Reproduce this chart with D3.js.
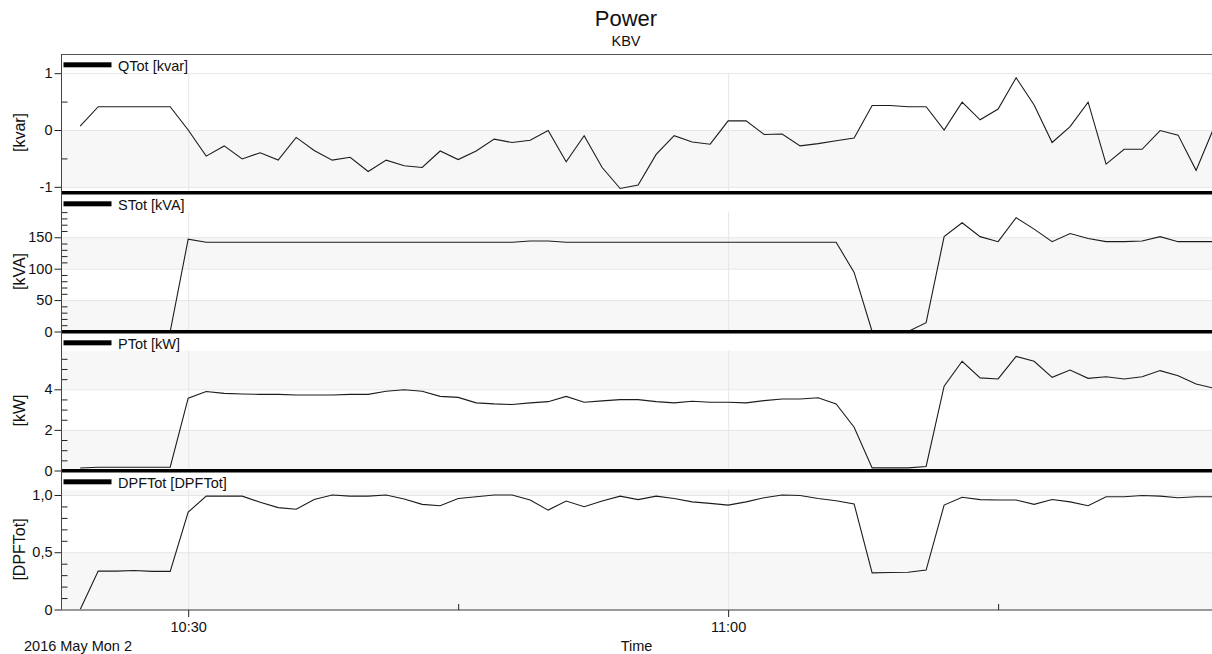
<!DOCTYPE html>
<html>
<head>
<meta charset="utf-8">
<script src="https://cdn.jsdelivr.net/npm/d3@7"></script>
<style>
body { margin: 0; background: #fff; }
svg { display: block; font-family: "Liberation Sans", Arial, sans-serif; }
</style>
</head>
<body>
<script>
// one sample per minute, starting 10:24
var startTime = new Date(2016, 4, 2, 10, 24);

var qTot = [0.07, 0.41, 0.41, 0.41, 0.41, 0.41, 0.0, -0.46, -0.28, -0.51,
            -0.40, -0.53, -0.13, -0.36, -0.53, -0.48, -0.73, -0.53, -0.63, -0.66,
            -0.37, -0.52, -0.37, -0.16, -0.22, -0.18, -0.01, -0.56, -0.10, -0.66,
            -1.03, -0.97, -0.43, -0.10, -0.21, -0.25, 0.16, 0.16, -0.08, -0.07,
            -0.28, -0.24, -0.19, -0.14, 0.43, 0.43, 0.41, 0.41, 0.0, 0.49,
            0.18, 0.37, 0.92, 0.44, -0.22, 0.06, 0.49, -0.60, -0.34, -0.34,
            -0.01, -0.09, -0.71, 0.05];

var sTot = [0, 0, 0, 0, 0, 0, 147, 142, 142, 142,
            142, 142, 142, 142, 142, 142, 142, 142, 142, 142,
            142, 142, 142, 142, 142, 144, 144, 142, 142, 142,
            142, 142, 142, 142, 142, 142, 142, 142, 142, 142,
            142, 142, 142, 94, 0, 0, 0, 14, 151, 173,
            151, 143, 181, 163, 143, 156, 148, 143, 143, 144,
            151, 143, 143, 143];

var pTot = [0.12, 0.16, 0.16, 0.16, 0.16, 0.16, 3.56, 3.89, 3.80, 3.77,
            3.75, 3.75, 3.72, 3.72, 3.72, 3.75, 3.75, 3.90, 3.98, 3.90,
            3.65, 3.60, 3.33, 3.28, 3.25, 3.33, 3.39, 3.65, 3.36, 3.43,
            3.49, 3.49, 3.39, 3.33, 3.41, 3.36, 3.36, 3.33, 3.44, 3.52,
            3.52, 3.58, 3.28, 2.13, 0.13, 0.13, 0.13, 0.20, 4.15, 5.38,
            4.56, 4.51, 5.62, 5.38, 4.59, 4.95, 4.54, 4.62, 4.51, 4.62,
            4.92, 4.67, 4.26, 4.05];

var dpfTot = [0.0, 0.335, 0.335, 0.34, 0.333, 0.333, 0.85, 0.99, 0.99, 0.99,
              0.936, 0.89, 0.875, 0.96, 1.0, 0.99, 0.99, 1.0, 0.965, 0.918,
              0.906, 0.97, 0.985, 1.0, 1.0, 0.956, 0.868, 0.947, 0.897, 0.947,
              0.99, 0.96, 0.99, 0.97, 0.94, 0.927, 0.912, 0.94, 0.976, 1.0,
              0.995, 0.97, 0.95, 0.921, 0.32, 0.323, 0.325, 0.344, 0.912, 0.98,
              0.96, 0.956, 0.956, 0.918, 0.96, 0.94, 0.906, 0.985, 0.985, 0.995,
              0.99, 0.976, 0.985, 0.985];

var seriesNames = ["QTot [kvar]", "STot [kVA]", "PTot [kW]", "DPFTot [DPFTot]"];
var unitLabels = ["[kvar]", "[kVA]", "[kW]", "[DPFTot]"];
var majorTicks = [[-1, 0, 1], [0, 50, 100, 150], [0, 2, 4], [0, 0.5, 1]];
var minorTicks = [[-0.5, 0.5],
                  [10, 20, 30, 40, 60, 70, 80, 90, 110, 120, 130, 140, 160, 170, 180, 190],
                  [0.5, 1, 1.5, 2.5, 3, 3.5, 4.5, 5, 5.5],
                  [0.1, 0.2, 0.3, 0.4, 0.6, 0.7, 0.8, 0.9]];
var yDomains = [[-1.1, 1.012], [0, 191], [0, 5.91], [0, 1.048]];
var timeMajor = ["10:30", "11:00"];
var timeMinor = ["10:45", "11:15"];

var W = 1212, H = 654;
var left = 61, right = 1212;
var bottoms = [192.5, 331.5, 470.5, 609.5];
var dataH = 120;

var parseHM = function (s) {
    var p = s.split(":");
    return new Date(2016, 4, 2, +p[0], +p[1]);
};

var x = d3.scaleTime()
    .domain([new Date(2016, 4, 2, 10, 22, 56.7), new Date(2016, 4, 2, 11, 26, 53.3)])
    .range([left, right]);

var svg = d3.select("body").append("svg")
    .attr("width", W)
    .attr("height", H);

// title
svg.append("text").attr("x", 626).attr("y", 26).attr("text-anchor", "middle")
    .attr("font-size", 22).attr("fill", "#111").text("Power");
svg.append("text").attr("x", 626).attr("y", 46).attr("text-anchor", "middle")
    .attr("font-size", 14.5).attr("fill", "#111").text("KBV");

var allSeries = [qTot, sTot, pTot, dpfTot];

// DPF axis uses a decimal comma: 0 / 0,5 / 1,0
var fmtDpf = function (d) { return d === 0 ? "0" : d3.format(".1f")(d).replace(".", ","); };
var fmtPlain = function (d) { return d3.format("~g")(d).replace("−", "-"); };

allSeries.forEach(function (values, i) {
    var B = bottoms[i], T = B - dataH;
    var y = d3.scaleLinear().domain(yDomains[i]).range([B, T]);
    var g = svg.append("g");

    var clipId = "clip" + i;
    svg.append("clipPath").attr("id", clipId)
        .append("rect").attr("x", left).attr("y", T).attr("width", right - left).attr("height", B - T);

    var inner = g.append("g").attr("clip-path", "url(#" + clipId + ")");

    // alternating bands between major ticks
    var mt = majorTicks[i];
    mt.forEach(function (v, k) {
        if (k % 2 !== 0) return;
        var top = k < mt.length - 1 ? mt[k + 1] : yDomains[i][1];
        inner.append("rect")
            .attr("x", left).attr("width", right - left)
            .attr("y", y(top)).attr("height", y(v) - y(top))
            .attr("fill", "#f7f7f7");
    });

    // grid
    inner.selectAll(".hg").data(mt).enter().append("line")
        .attr("x1", left).attr("x2", right)
        .attr("y1", function (d) { return y(d) + 0.5; })
        .attr("y2", function (d) { return y(d) + 0.5; })
        .attr("stroke", "#e6e6e6");
    inner.selectAll(".vg").data(timeMajor).enter().append("line")
        .attr("x1", function (d) { return x(parseHM(d)) + 0.5; })
        .attr("x2", function (d) { return x(parseHM(d)) + 0.5; })
        .attr("y1", T).attr("y2", B)
        .attr("stroke", "#e6e6e6");

    // data line
    var pts = values.map(function (v, n) {
        return {t: d3.timeMinute.offset(startTime, n), v: v};
    });
    var line = d3.line()
        .x(function (d) { return x(d.t); })
        .y(function (d) { return y(d.v); });
    inner.append("path").datum(pts)
        .attr("d", line)
        .attr("fill", "none")
        .attr("stroke", "#1c1c1c")
        .attr("stroke-width", 1.1);

    // legend
    g.append("rect").attr("x", 63.5).attr("y", T - 10.2).attr("width", 48).attr("height", 5)
        .attr("fill", "#000");
    g.append("text").attr("x", 118).attr("y", T - 1.5)
        .attr("font-size", 14.5).attr("fill", "#111").text(seriesNames[i]);

    // y axis
    var fmt = i === 3 ? fmtDpf : fmtPlain;
    var major = d3.axisLeft(y).tickValues(mt).tickSize(7).tickPadding(2).tickFormat(fmt);
    var ga = g.append("g").attr("transform", "translate(" + (left + 0.5) + ",0)").call(major);
    ga.select(".domain").remove();
    ga.selectAll("text").attr("font-size", 14.5).attr("fill", "#111")
        .attr("font-family", "Liberation Sans, Arial, sans-serif");
    ga.selectAll("line").attr("stroke", "#222");

    var minor = d3.axisLeft(y).tickValues(minorTicks[i]).tickSize(-6).tickFormat("");
    var gm = g.append("g").attr("transform", "translate(" + (left + 0.5) + ",0)").call(minor);
    gm.select(".domain").remove();
    gm.selectAll("line").attr("stroke", "#222");

    // unit label
    g.append("text")
        .attr("transform", "translate(24.5," + ((T + B) / 2) + ") rotate(-90)")
        .attr("text-anchor", "middle")
        .attr("font-size", 16).attr("fill", "#111")
        .text(unitLabels[i]);

    // separator
    if (i < 3) {
        g.append("line").attr("x1", left).attr("x2", right)
            .attr("y1", B + 0.2).attr("y2", B + 0.2)
            .attr("stroke", "#000").attr("stroke-width", 3.6);
    }
});

// top border and left axis line
svg.append("line").attr("x1", left).attr("x2", right).attr("y1", 54.5).attr("y2", 54.5)
    .attr("stroke", "#555");
svg.append("line").attr("x1", left + 0.5).attr("x2", left + 0.5).attr("y1", 54).attr("y2", 610.5)
    .attr("stroke", "#444");

// time axis
var xb = svg.append("g").attr("transform", "translate(0,610)");
xb.append("line").attr("x1", left).attr("x2", right).attr("y1", 0).attr("y2", 0)
    .attr("stroke", "#7a7a7a").attr("stroke-width", 1.5);
var xMajor = d3.axisBottom(x).tickValues(timeMajor.map(parseHM)).tickSize(7).tickPadding(5)
    .tickFormat(d3.timeFormat("%H:%M"));
var gx = xb.append("g").call(xMajor);
gx.select(".domain").remove();
gx.selectAll("text").attr("font-size", 14.5).attr("fill", "#111")
    .attr("font-family", "Liberation Sans, Arial, sans-serif");
gx.selectAll("line").attr("stroke", "#222");
var xMinor = d3.axisBottom(x).tickValues(timeMinor.map(parseHM)).tickSize(-6).tickFormat("");
var gxm = xb.append("g").call(xMinor);
gxm.select(".domain").remove();
gxm.selectAll("line").attr("stroke", "#222");

svg.append("text").attr("x", 24).attr("y", 651)
    .attr("font-size", 14.5).attr("fill", "#111").text("2016 May Mon 2");
svg.append("text").attr("x", (left + right) / 2).attr("y", 651).attr("text-anchor", "middle")
    .attr("font-size", 14.5).attr("fill", "#111").text("Time");
</script>
</body>
</html>
